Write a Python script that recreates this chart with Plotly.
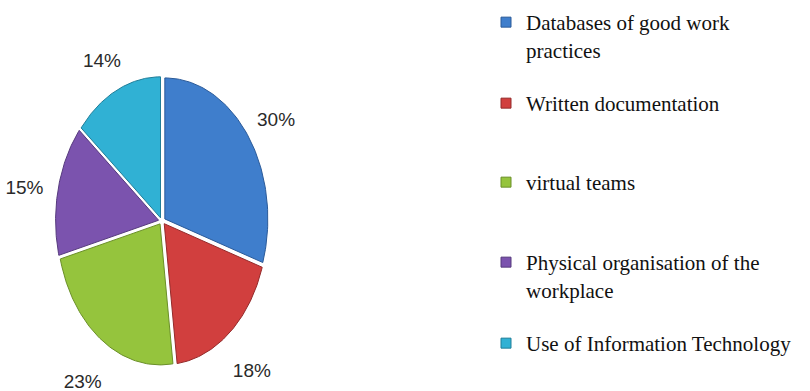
import numpy as np
import plotly.graph_objects as go

# ---- data ----
categories = [
    "Databases of good work<br>practices",
    "Written documentation",
    "virtual teams",
    "Physical organisation of the<br>workplace",
    "Use of Information Technology",
]
shares = [30, 18, 23, 15, 14]
colors = ["#3f7ecc", "#d13f3e", "#95c43d", "#7b53ae", "#30b1d4"]
edge_colors = ["#2a5a99", "#942a2a", "#6a8f28", "#563a7d", "#1f7e99"]

# ---- geometry (pixel space) ----
W, H = 810, 391
cx, cy = 162, 221
rx, ry = 103, 141
pull = 3.5
lab_cx, lab_cy = 162, 230
lab_rx, lab_ry = rx + 38, ry + 44
legend_x = 486
legend_y = [2, 83, 162, 242, 323]

fig = go.Figure()

total = sum(shares)
start = 0.0
for i, (name, v) in enumerate(zip(categories, shares)):
    a0 = start / total * 2 * np.pi
    a1 = (start + v) / total * 2 * np.pi
    mid = (a0 + a1) / 2
    ox = pull * np.sin(mid)
    oy = -pull * np.cos(mid)
    t = np.linspace(a0, a1, 80)
    xs = np.concatenate([[cx + ox], cx + ox + rx * np.sin(t), [cx + ox]])
    ys = np.concatenate([[cy + oy], cy + oy - ry * np.cos(t), [cy + oy]])
    fig.add_trace(go.Scatter(
        x=xs, y=ys, mode="lines", fill="toself", fillcolor=colors[i],
        line=dict(color=edge_colors[i], width=1),
        showlegend=False, hoverinfo="skip",
    ))
    # percentage label
    fig.add_trace(go.Scatter(
        x=[lab_cx + lab_rx * np.sin(mid)], y=[lab_cy - lab_ry * np.cos(mid)],
        mode="text", text=[f"{v}%"],
        textfont=dict(family="Liberation Sans, Arial, sans-serif", size=19, color="#2a2a2a"),
        showlegend=False, hoverinfo="skip",
    ))
    start += v

# legend entries (one legend per entry for exact placement)
for i, name in enumerate(categories):
    lg = "legend" if i == 0 else f"legend{i+1}"
    fig.add_trace(go.Scatter(
        x=[None], y=[None], mode="markers", name=name,
        marker=dict(symbol="square", size=10, color=colors[i],
                    line=dict(color=edge_colors[i], width=1)),
        legend=lg,
    ))

legend_common = dict(
    xanchor="left", yanchor="top", bgcolor="rgba(0,0,0,0)",
    font=dict(family="Liberation Serif, Times New Roman, serif", size=21, color="#111111"),
    valign="top", itemclick=False,
)
layout_legends = {}
for i in range(len(categories)):
    key = "legend" if i == 0 else f"legend{i+1}"
    layout_legends[key] = dict(x=legend_x / W, y=1 - legend_y[i] / H, **legend_common)

fig.update_layout(
    width=W, height=H,
    margin=dict(l=0, r=0, t=0, b=0),
    paper_bgcolor="white", plot_bgcolor="white",
    xaxis=dict(range=[0, W], visible=False, fixedrange=True),
    yaxis=dict(range=[H, 0], visible=False, fixedrange=True),
    **layout_legends,
)

fig.write_html("out.html")
